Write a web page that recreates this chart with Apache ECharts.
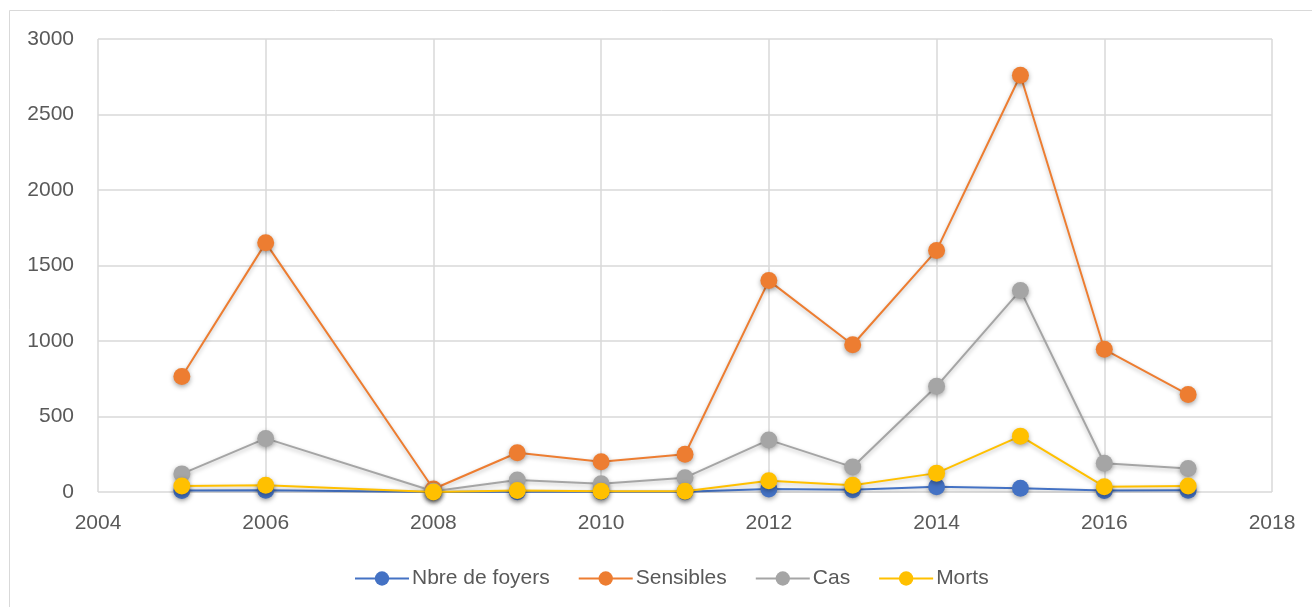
<!DOCTYPE html>
<html>
<head>
<meta charset="utf-8">
<script src="https://cdn.jsdelivr.net/npm/echarts@6/dist/echarts.min.js"></script>
<style>html,body{margin:0;padding:0;background:#fff;}#c{width:1312px;height:607px;}</style>
</head>
<body>
<div id="c"></div>
<script>
const years = [2005, 2006, 2008, 2009, 2010, 2011, 2012, 2013, 2014, 2015, 2016, 2017];
const foyers = [10, 12, 0, 2, 2, 2, 20, 15, 35, 25, 10, 12];
const sensibles = [765, 1650, 20, 260, 200, 250, 1400, 975, 1600, 2760, 945, 645];
const cas = [120, 355, 5, 80, 55, 95, 345, 165, 700, 1335, 190, 155];
const morts = [40, 45, 0, 10, 5, 5, 75, 45, 125, 370, 35, 40];
const seriesNames = ['Nbre de foyers', 'Sensibles', 'Cas', 'Morts'];
const colors = ['#4472C4', '#ED7D31', '#A5A5A5', '#FFC000'];
const allData = [foyers, sensibles, cas, morts];

const chart = echarts.init(document.getElementById('c'));
const font = "'Liberation Sans Narrow', 'Liberation Sans', sans-serif";
chart.setOption({
  animation: false,
  backgroundColor: '#fff',
  graphic: [{
    type: 'rect', shape: {x: 9.5, y: 10.5, width: 1310, height: 600},
    style: {fill: 'none', stroke: '#d9d9d9', lineWidth: 1}, silent: true
  }],
  grid: {left: 98, right: 40, top: 39, bottom: 115, containLabel: false},
  legend: {
    top: 563, left: 349,
    data: seriesNames,
    itemWidth: 54, itemHeight: 18, itemGap: 28,
    textStyle: {color: '#595959', fontSize: 21, fontFamily: font, padding: [0, 0, 0, -2]}
  },
  xAxis: {
    type: 'value', min: 2004, max: 2018, interval: 2,
    axisLine: {show: false},
    axisTick: {show: false},
    splitLine: {show: true, lineStyle: {color: '#d9d9d9', width: 1.5}},
    axisLabel: {color: '#595959', fontSize: 21, fontFamily: font, margin: 21, formatter: v => String(v)}
  },
  yAxis: {
    type: 'value', min: 0, max: 3000, interval: 500,
    axisLine: {show: false},
    axisTick: {show: false},
    splitLine: {show: true, lineStyle: {color: '#d9d9d9', width: 1.5}},
    axisLabel: {color: '#595959', fontSize: 21, fontFamily: font, margin: 24, formatter: v => String(v)}
  },
  series: seriesNames.map((n, i) => ({
    name: n, type: 'line',
    data: years.map((y, j) => [y, allData[i][j]]),
    symbol: 'circle', symbolSize: 17,
    lineStyle: {color: colors[i], width: 2, shadowColor: 'rgba(0,0,0,0.25)', shadowBlur: 4, shadowOffsetY: 2},
    itemStyle: {color: colors[i], shadowColor: 'rgba(0,0,0,0.35)', shadowBlur: 5, shadowOffsetY: 2},
    z: 2 + i
  }))
});
</script>
</body>
</html>
